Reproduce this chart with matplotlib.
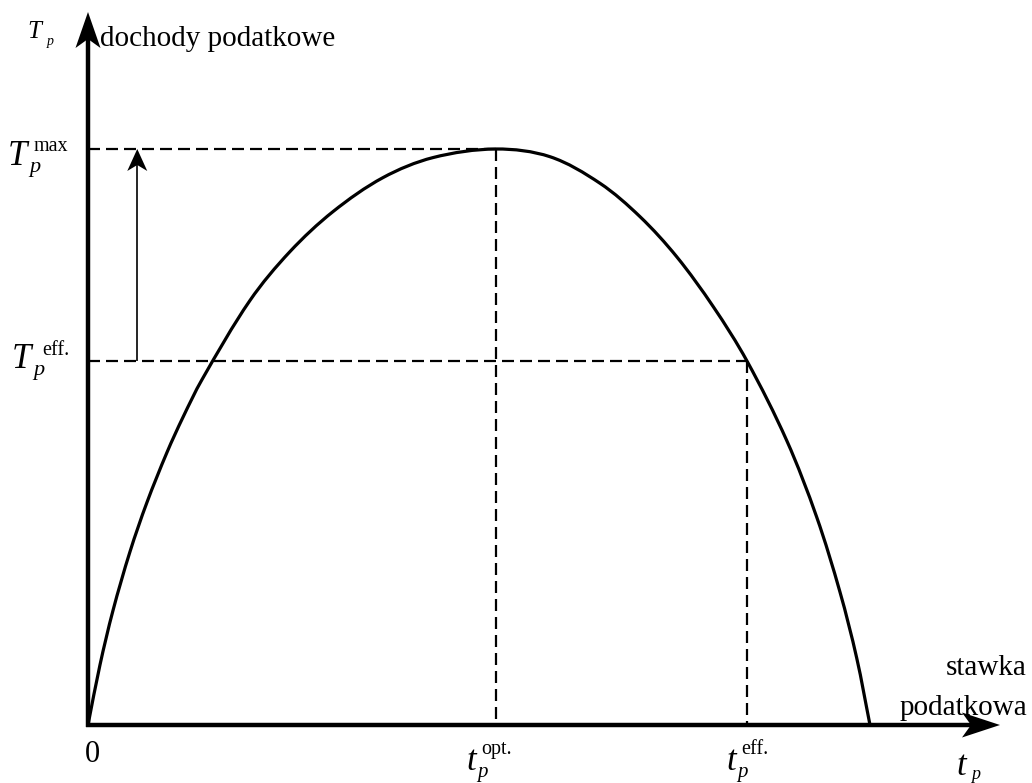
import numpy as np
import matplotlib
matplotlib.use('Agg')
import matplotlib.pyplot as plt
from matplotlib.patches import PathPatch, Polygon
from matplotlib.path import Path

plt.rcParams['font.family'] = ['Liberation Serif', 'DejaVu Serif']

# Laffer curve: tax rate (0..100) vs revenue (peak = 100)
tax_rate = [0, 1.53, 3.20, 5.37, 7.54, 10.10, 12.15, 14.58, 20.72, 25.83,
            31.33, 37.72, 44.12, 52.17, 59.08, 65.47, 70.59, 75.28, 79.96,
            84.27, 89.35, 93.18, 96.16, 98.30, 100]
revenue = [0, 10.42, 19.90, 30.09, 38.65, 47.33, 53.44, 59.97, 73.72, 82.19,
           89.13, 95.03, 98.51, 100, 98.66, 94.05, 88.25, 81.30, 72.62,
           63.19, 49.39, 36.11, 23.09, 11.63, 0]

t_opt, t_eff = 52.2, 84.3
T_max, T_eff = 100.0, 63.2
arrow_x = 6.3

# pixel scale of the drawing (px per unit), origin at (88, 725) px
XS, YS = 7.82, 5.76
W, H = 1032, 783
X0, Y0 = 88, 725


def px(x, y):
    return (x - X0) / XS, (Y0 - y) / YS


def smooth_path(xs, ys):
    # cubic bezier through the read points, tangents from neighbours (px space)
    p = np.column_stack([np.asarray(xs) * XS, np.asarray(ys) * YS])
    h = np.hypot(*np.diff(p, axis=0).T)
    s = np.concatenate([[0], np.cumsum(h)])
    m = np.zeros_like(p)
    m[1:-1] = (p[2:] - p[:-2]) / (s[2:] - s[:-2])[:, None]
    m[0] = (p[1] - p[0]) / h[0]
    m[-1] = (p[-1] - p[-2]) / h[-1]
    verts, codes = [p[0]], [Path.MOVETO]
    for i in range(len(p) - 1):
        verts += [p[i] + m[i] * h[i] / 3, p[i + 1] - m[i + 1] * h[i] / 3, p[i + 1]]
        codes += [Path.CURVE4] * 3
    verts = np.array(verts) / [XS, YS]
    return Path(verts, codes)


def arrow(start, tip, lw, length, half, notch):
    # shaft plus a notched (stealth) head, sizes in px
    (x0, y0), (x1, y1) = start, tip
    d = np.array([x1 - x0, y1 - y0], float)
    d /= np.hypot(*d)
    n = np.array([-d[1], d[0]])
    tip = np.array([x1, y1], float)
    back = tip - d * length
    mid = tip - d * notch
    ax.plot(*zip(px(x0, y0), px(*mid)), color='black', lw=lw, solid_capstyle='butt')
    head = [px(*tip), px(*(back + n * half)), px(*mid), px(*(back - n * half))]
    ax.add_patch(Polygon(head, closed=True, facecolor='black', edgecolor='none', zorder=5))


def sym(x, y, s, size, italic=True, **kw):
    ax.text(*px(x, y), s, fontsize=size, va='baseline',
            style='italic' if italic else 'normal', **kw)


fig = plt.figure(figsize=(W / 100, H / 100), dpi=100)
ax = fig.add_axes([0, 0, 1, 1])
ax.set_xlim(-X0 / XS, (W - X0) / XS)
ax.set_ylim(-(H - Y0) / YS, Y0 / YS)
ax.axis('off')

# curve
ax.add_patch(PathPatch(smooth_path(tax_rate, revenue), facecolor='none',
                       edgecolor='black', lw=2.3, capstyle='round', zorder=3))

# dashed guides
dash = dict(color='black', lw=1.6, dashes=(5.4, 2.7))
ax.plot([0, t_opt], [T_max, T_max], **dash)
ax.plot([t_opt, t_opt], [T_max, 0], **dash)
ax.plot([0, t_eff], [T_eff, T_eff], **dash)
ax.plot([t_eff, t_eff], [T_eff, 0], **dash)

# axes with arrows
arrow((X0, Y0 + 2), (X0, 12), 3.2, 36, 12.5, 27)
arrow((X0 - 2, Y0), (1000, Y0), 3.2, 38, 12.5, 29)

# increase arrow
ax_px = X0 + arrow_x * XS
arrow((ax_px, Y0 - T_eff * YS), (ax_px, Y0 - T_max * YS), 1.2, 22, 10, 16)

# labels
sym(27, 38, 'T', 18)
sym(47, 45, 'p', 10)
sym(100, 46, 'dochody podatkowe', 21, italic=False)

sym(8, 165, 'T', 25)
sym(29, 172, 'p', 16)
sym(34, 151, 'max', 14.5, italic=False)

sym(12, 368, 'T', 25)
sym(33, 375, 'p', 16)
sym(42, 355, 'eff.', 14.5, italic=False)

ax.text(*px(92, 762), '0', fontsize=22, ha='center', va='baseline')

sym(466, 770, 't', 25)
sym(477, 777, 'p', 15)
sym(481, 754, 'opt.', 14.5, italic=False)

sym(726, 770, 't', 25)
sym(737, 777, 'p', 15)
sym(741, 754, 'eff.', 14.5, italic=False)

sym(956, 775, 't', 25)
sym(971, 779, 'p', 13)

ax.text(*px(1027, 675), 'stawka', fontsize=21, ha='right', va='baseline')
ax.text(*px(1027, 715), 'podatkowa', fontsize=21, ha='right', va='baseline')

fig.savefig('out.png', dpi=100)
